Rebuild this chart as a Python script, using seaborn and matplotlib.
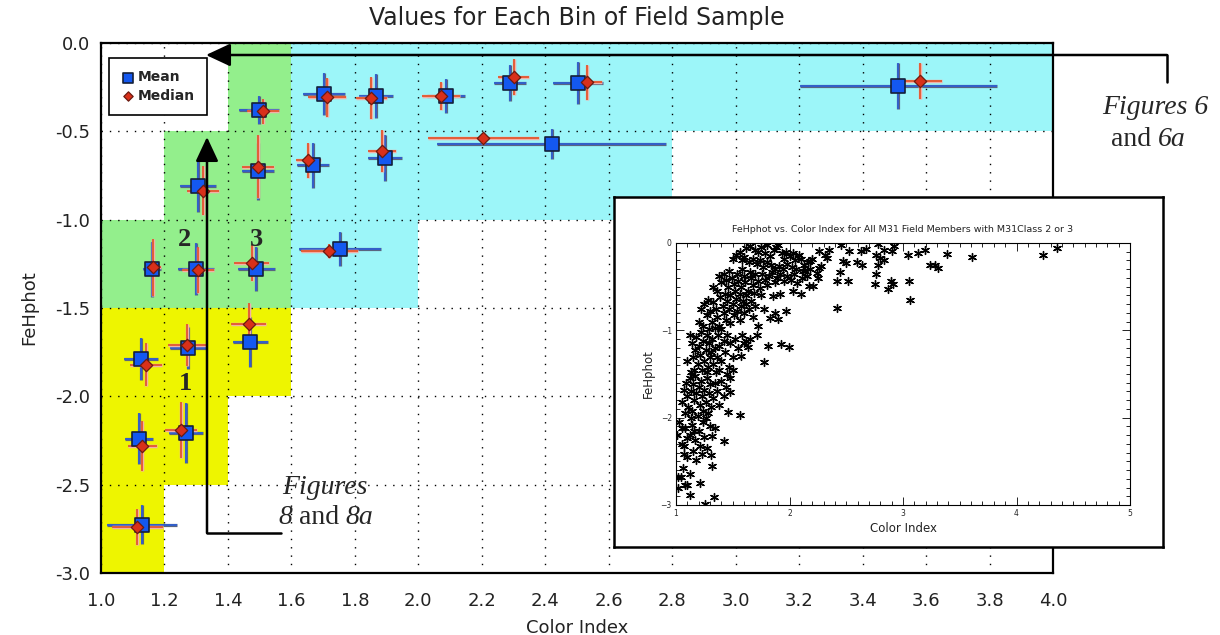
import matplotlib
matplotlib.use("Agg")
import matplotlib.pyplot as plt
import matplotlib.patheffects as pe
from matplotlib.patches import Rectangle
from matplotlib.ticker import MultipleLocator, FixedLocator, FixedFormatter
import seaborn as sns
import numpy as np

# ---------------- data ----------------
# bin cells (background)
bin_x0 = [1.0, 1.2, 1.4, 1.0, 1.2, 1.4, 1.6, 1.6, 1.6]
bin_x1 = [1.2, 1.4, 1.6, 1.6, 1.6, 1.6, 2.0, 2.8, 4.0]
bin_y0 = [-3.0, -2.5, -2.0, -1.5, -1.0, -0.5, -1.5, -1.0, -0.5]
bin_y1 = [-1.5, -1.5, -1.5, -1.0, -0.5, 0.0, -1.0, -0.5, 0.0]
bin_group = ["1", "1", "1", "2", "2", "2", "3", "3", "3"]

# mean values per bin
mean_x = [1.160, 1.300, 1.490, 1.753, 1.126, 1.274, 1.470, 1.120, 1.268, 1.130, 1.306,
          1.495, 1.498, 1.668, 1.895, 1.703, 1.867, 2.087, 2.289, 2.503, 2.420, 3.512]
mean_y = [-1.280, -1.278, -1.280, -1.165, -1.790, -1.727, -1.693, -2.240, -2.210, -2.727, -0.807,
          -0.727, -0.380, -0.693, -0.653, -0.290, -0.300, -0.300, -0.227, -0.227, -0.570, -0.244]
mean_xerr = [0.028, 0.057, 0.057, 0.130, 0.055, 0.057, 0.055, 0.045, 0.055, 0.110, 0.057,
             0.050, 0.063, 0.050, 0.055, 0.066, 0.054, 0.060, 0.050, 0.080, 0.360, 0.310]
mean_yerr = [0.155, 0.148, 0.125, 0.095, 0.120, 0.120, 0.140, 0.145, 0.170, 0.110, 0.150,
             0.160, 0.080, 0.125, 0.130, 0.120, 0.125, 0.095, 0.100, 0.120, 0.085, 0.130]

# median values per bin
med_x = [1.165, 1.305, 1.475, 1.720, 1.142, 1.270, 1.465, 1.130, 1.253, 1.115, 1.322,
         1.495, 1.510, 1.653, 1.885, 1.712, 1.852, 2.072, 2.300, 2.530, 2.204, 3.580]
med_y = [-1.270, -1.285, -1.245, -1.176, -1.820, -1.710, -1.590, -2.280, -2.190, -2.740, -0.835,
         -0.700, -0.386, -0.665, -0.613, -0.307, -0.313, -0.300, -0.193, -0.222, -0.540, -0.216]
med_xerr = [0.025, 0.050, 0.055, 0.090, 0.050, 0.060, 0.055, 0.045, 0.050, 0.080, 0.050,
            0.050, 0.050, 0.040, 0.045, 0.060, 0.050, 0.060, 0.050, 0.050, 0.175, 0.070]
med_yerr = [0.160, 0.130, 0.100, 0.040, 0.120, 0.120, 0.120, 0.140, 0.160, 0.100, 0.140,
            0.180, 0.070, 0.100, 0.120, 0.110, 0.120, 0.080, 0.100, 0.100, 0.030, 0.100]

x_ticks = [1.0, 1.2, 1.4, 1.6, 1.8, 2.0, 2.2, 2.4, 2.6, 2.8, 3.0, 3.2, 3.4, 3.6, 3.8, 4.0]
x_ticklabels = ["1.0", "1.2", "1.4", "1.6", "1.8", "2.0", "2.2", "2.4", "2.6", "2.8",
                "3.0", "3.2", "3.4", "3.6", "3.8", "4.0"]
y_ticks = [0.0, -0.5, -1.0, -1.5, -2.0, -2.5, -3.0]
y_ticklabels = ["0.0", "-0.5", "-1.0", "-1.5", "-2.0", "-2.5", "-3.0"]

# inset scatter (all M31 field members)
inset_band1 = [(1.62, -0.06), (1.65, -0.04), (1.70, -0.08), (1.72, -0.10), (1.75, -0.05), (1.78, -0.12),
               (1.80, -0.02), (1.83, -0.15), (1.86, -0.08), (1.88, -0.05), (1.90, -0.02), (1.93, -0.12),
               (1.95, -0.18), (1.97, -0.10), (2.00, -0.15), (2.03, -0.12), (2.05, -0.20), (2.08, -0.14),
               (2.10, -0.18), (2.13, -0.25), (2.16, -0.22), (2.20, -0.18), (1.50, -0.18), (1.53, -0.14),
               (1.56, -0.10), (1.58, -0.20), (1.60, -0.16), (1.64, -0.22), (1.68, -0.18), (1.71, -0.24),
               (1.74, -0.20), (1.77, -0.28), (1.80, -0.22), (1.84, -0.25), (1.87, -0.30), (1.91, -0.26),
               (1.94, -0.30), (1.98, -0.24), (2.02, -0.28), (2.06, -0.30), (2.12, -0.32), (2.18, -0.30),
               (2.24, -0.34), (2.28, -0.26)]
inset_band2 = [(1.38, -0.38), (1.40, -0.45), (1.42, -0.35), (1.44, -0.42), (1.46, -0.50), (1.47, -0.32),
               (1.49, -0.40), (1.51, -0.47), (1.52, -0.55), (1.54, -0.36), (1.55, -0.43), (1.57, -0.50),
               (1.58, -0.30), (1.60, -0.38), (1.61, -0.45), (1.63, -0.55), (1.65, -0.33), (1.66, -0.40),
               (1.68, -0.48), (1.70, -0.36), (1.72, -0.43), (1.74, -0.52), (1.76, -0.35), (1.78, -0.42),
               (1.80, -0.48), (1.82, -0.38), (1.85, -0.33), (1.87, -0.45), (1.89, -0.40), (1.92, -0.36),
               (1.95, -0.44), (1.98, -0.38), (2.01, -0.42), (2.04, -0.36), (2.07, -0.46), (2.11, -0.40),
               (2.15, -0.38), (1.43, -0.58), (1.48, -0.60), (1.56, -0.58), (1.62, -0.60), (1.69, -0.57),
               (1.75, -0.60), (1.33, -0.50), (1.36, -0.55)]
inset_band3 = [(1.22, -0.75), (1.25, -0.70), (1.27, -0.82), (1.28, -0.65), (1.30, -0.78), (1.32, -0.90),
               (1.33, -0.68), (1.35, -0.75), (1.36, -0.85), (1.38, -0.95), (1.39, -0.62), (1.41, -0.72),
               (1.42, -0.80), (1.44, -0.88), (1.45, -0.66), (1.47, -0.76), (1.48, -0.92), (1.50, -0.70),
               (1.51, -0.82), (1.53, -0.64), (1.54, -0.78), (1.56, -0.88), (1.57, -0.72), (1.59, -0.66),
               (1.60, -0.80), (1.62, -0.70), (1.64, -0.76), (1.66, -0.66), (1.68, -0.85), (1.70, -0.72),
               (1.72, -0.95), (1.20, -0.90), (1.24, -0.95), (1.29, -0.98), (1.34, -0.97), (1.40, -0.98)]
inset_band4 = [(1.12, -1.05), (1.14, -1.15), (1.15, -1.30), (1.16, -1.45), (1.17, -1.22), (1.18, -1.08),
               (1.19, -1.38), (1.20, -1.18), (1.21, -1.28), (1.22, -1.02), (1.23, -1.45), (1.24, -1.12),
               (1.25, -1.35), (1.26, -1.22), (1.27, -1.05), (1.28, -1.42), (1.29, -1.15), (1.30, -1.30),
               (1.31, -1.25), (1.32, -1.10), (1.33, -1.38), (1.34, -1.20), (1.35, -1.48), (1.36, -1.30),
               (1.37, -1.05), (1.38, -1.18), (1.40, -1.35), (1.42, -1.12), (1.43, -1.25), (1.45, -1.05),
               (1.47, -1.42), (1.48, -1.15), (1.50, -1.30), (1.52, -1.10), (1.55, -1.20), (1.58, -1.05),
               (1.60, -1.15), (1.65, -1.10), (1.10, -1.35), (1.13, -1.48), (1.27, -1.48), (1.38, -1.45),
               (1.45, -1.50), (1.50, -1.45)]
inset_band5 = [(1.05, -1.82), (1.07, -1.68), (1.08, -1.95), (1.09, -1.60), (1.10, -1.75), (1.11, -1.88),
               (1.12, -1.55), (1.13, -1.70), (1.14, -1.92), (1.15, -1.62), (1.16, -1.80), (1.17, -1.52),
               (1.18, -1.72), (1.19, -1.98), (1.20, -1.65), (1.21, -1.85), (1.22, -1.58), (1.23, -1.75),
               (1.24, -1.92), (1.25, -1.68), (1.26, -1.82), (1.27, -1.55), (1.28, -1.95), (1.29, -1.72),
               (1.30, -1.62), (1.31, -1.88), (1.33, -1.78), (1.34, -1.60), (1.36, -1.70), (1.38, -1.85),
               (1.40, -1.58), (1.42, -1.75), (1.44, -1.65), (1.48, -1.55), (1.13, -2.00), (1.26, -2.00)]
inset_band6 = [(1.03, -2.05), (1.05, -2.30), (1.08, -2.12), (1.10, -2.45), (1.12, -2.20), (1.14, -2.08),
               (1.15, -2.38), (1.17, -2.25), (1.18, -2.48), (1.20, -2.15), (1.21, -2.32), (1.23, -2.42),
               (1.25, -2.22), (1.27, -2.35), (1.30, -2.10), (1.24, -2.05), (1.16, -2.15)]
inset_sparse = [(4.355, -0.057), (4.236, -0.133), (3.607, -0.163), (3.387, -0.125), (3.198, -0.076),
                (3.129, -0.120), (3.040, -0.133), (3.239, -0.247), (3.286, -0.247), (3.311, -0.290),
                (3.050, -0.437), (3.066, -0.653), (2.909, -0.475), (2.893, -0.430), (2.871, -0.524),
                (2.750, -0.475), (2.758, -0.360), (2.780, -0.254), (2.764, -0.140), (2.796, -0.170),
                (2.836, -0.190), (2.836, -0.076), (2.905, -0.095), (2.925, -0.038), (2.780, -0.010),
                (2.670, -0.065), (2.626, -0.095), (2.640, -0.254), (2.594, -0.220), (2.525, -0.087),
                (2.516, -0.430), (2.500, -0.228), (2.470, -0.209), (2.456, -0.019), (2.418, -0.430),
                (2.443, -0.330), (2.420, -0.748), (2.330, -0.170), (2.350, -0.076), (2.310, -0.133),
                (2.258, -0.087), (2.264, -0.285), (2.248, -0.399), (2.211, -0.494), (2.170, -0.494),
                (2.185, -0.209), (2.140, -0.323), (2.100, -0.580), (2.035, -0.550), (1.997, -1.190),
                (1.965, -0.779), (1.928, -1.160), (1.918, -0.589), (1.896, -0.874), (1.870, -0.798),
                (1.830, -0.855), (1.855, -0.608), (1.808, -1.180), (1.777, -0.760), (1.777, -1.367),
                (1.714, -1.050), (1.635, -1.196), (1.613, -1.120), (1.572, -1.290), (1.563, -1.975),
                (1.462, -1.937), (1.478, -1.709), (1.425, -2.267), (1.346, -2.115), (1.321, -2.556),
                (1.336, -2.913), (1.305, -2.430), (1.314, -2.210), (1.210, -2.746), (1.126, -2.886),
                (1.100, -2.770), (1.079, -2.770), (1.123, -2.640), (1.022, -2.810), (1.044, -2.685),
                (1.022, -2.685), (1.060, -2.580), (1.005, -2.200), (1.094, -2.230), (1.069, -2.330),
                (1.069, -2.420), (1.053, -2.115), (1.258, -2.990)]

# ---------------- style ----------------
sns.set_style("white")
plt.rcParams["font.family"] = ["DejaVu Sans"]

W, H = 1220, 635
fig = plt.figure(figsize=(W / 100, H / 100), dpi=100)
ax = fig.add_axes([101 / W, 1 - 573 / H, (1053 - 101) / W, (573 - 43) / H])

group_colors = {"1": "#eef500", "2": "#93ef8c", "3": "#9cf6f9"}
for x0, x1, y0, y1, g in zip(bin_x0, bin_x1, bin_y0, bin_y1, bin_group):
    ax.add_patch(Rectangle((x0, y0), x1 - x0, y1 - y0, facecolor=group_colors[g],
                           edgecolor="none", zorder=0.5))

ax.set_xlim(1.0, 4.0)
ax.set_ylim(-3.0, 0.0)
ax.xaxis.set_major_locator(FixedLocator(x_ticks))
ax.xaxis.set_major_formatter(FixedFormatter(x_ticklabels))
ax.yaxis.set_major_locator(FixedLocator(y_ticks))
ax.yaxis.set_major_formatter(FixedFormatter(y_ticklabels))
ax.grid(True, color="black", linestyle=(0, (1, 5)), linewidth=1.0, zorder=1)
ax.tick_params(length=0, labelsize=13, labelcolor="#222222")
ax.tick_params(axis="x", pad=14)
ax.tick_params(axis="y", pad=8)
for s in ax.spines.values():
    s.set_color("black")
    s.set_linewidth(1.6)

# error bars
blue_bar = "#2f5fd0"
red_bar = "#e2572f"
eb1 = ax.errorbar(mean_x, mean_y, xerr=mean_xerr, yerr=mean_yerr, fmt="none",
                  ecolor=blue_bar, elinewidth=1.3, capsize=0, zorder=3)
for lc in eb1.lines[2]:
    lc.set_path_effects([pe.withStroke(linewidth=2.3, foreground="#5a6580")])
eb2 = ax.errorbar(med_x, med_y, xerr=med_xerr, yerr=med_yerr, fmt="none",
                  ecolor=red_bar, elinewidth=1.3, capsize=0, zorder=4)
for lc in eb2.lines[2]:
    lc.set_path_effects([pe.withStroke(linewidth=2.5, foreground="#f2b0a8")])

sns.scatterplot(x=mean_x, y=mean_y, marker="s", s=88, color="#1458f0",
                edgecolor="#15203a", linewidth=1.2, label="Mean", zorder=6, ax=ax)
sns.scatterplot(x=med_x, y=med_y, marker="D", s=40, color="#d8301a",
                edgecolor="#6a1a10", linewidth=0.9, label="Median", zorder=7, ax=ax)

leg = ax.legend(loc="upper left", bbox_to_anchor=(0.008, 0.972), borderaxespad=0,
                fancybox=False, edgecolor="black", framealpha=1, fontsize=10,
                handletextpad=0.2, borderpad=0.9, labelspacing=0.3, handlelength=1.0,
                markerscale=0.75)
leg.get_frame().set_linewidth(1.2)
for t in leg.get_texts():
    t.set_fontweight("bold")

ax.set_title("Values for Each Bin of Field Sample", fontsize=17, color="#222222", pad=13)
ax.set_xlabel("Color Index", fontsize=13, color="#222222", labelpad=6)
ax.set_ylabel("FeHphot", fontsize=13, color="#222222", labelpad=12)

# bin numbers
serif = ["Liberation Serif", "DejaVu Serif"]
for lab, xx, yy in [("2", 1.262, -1.114), ("3", 1.490, -1.114), ("1", 1.265, -1.926)]:
    ax.text(xx, yy, lab, fontsize=19, fontweight="bold", family=serif,
            ha="center", va="center", zorder=8)

# arrows (figure pixel coordinates)
arrow_kw = dict(arrowstyle="-|>,head_length=0.75,head_width=0.35", color="black",
                lw=1.8, shrinkA=0, shrinkB=0, mutation_scale=20)
fig.add_artist(plt.Line2D([1167 / W, 1167 / W], [1 - 82 / H, 1 - 55 / H], color="black", lw=1.8))
ax.annotate("", xy=(206, H - 55), xycoords="figure pixels", xytext=(1167, H - 55),
            textcoords="figure pixels", arrowprops=arrow_kw, zorder=10, annotation_clip=False)
fig.add_artist(plt.Line2D([207 / W, 281 / W], [1 - 533 / H, 1 - 533 / H], color="black", lw=1.8))
ax.annotate("", xy=(207, H - 137), xycoords="figure pixels", xytext=(207, H - 533),
            textcoords="figure pixels", arrowprops=arrow_kw, zorder=10, annotation_clip=False)

tkw = dict(fontsize=20, family=serif, va="center")
fig.text(1155 / W, 1 - 107 / H, "Figures 6", style="italic", ha="center", **tkw)
fig.text(1151 / W, 1 - 139 / H, "and", ha="right", **tkw)
fig.text(1158 / W, 1 - 139 / H, "6a", style="italic", ha="left", **tkw)
fig.text(325 / W, 1 - 487 / H, "Figures", style="italic", ha="center", **tkw)
fig.text(292 / W, 1 - 517 / H, "8", style="italic", ha="right", **tkw)
fig.text(319 / W, 1 - 517 / H, "and", ha="center", **tkw)
fig.text(345 / W, 1 - 517 / H, "8a", style="italic", ha="left", **tkw)

# inset box
box = fig.add_axes([614 / W, 1 - 547 / H, (1163 - 614) / W, (547 - 197) / H], zorder=5)
box.set_xticks([])
box.set_yticks([])
box.set_facecolor("white")
for s in box.spines.values():
    s.set_color("black")
    s.set_linewidth(1.8)

ins = fig.add_axes([676 / W, 1 - 505 / H, (1130 - 676) / W, (505 - 243) / H], zorder=6)
ins.set_facecolor("white")
inset_all = inset_band1 + inset_band2 + inset_band3 + inset_band4 + inset_band5 + inset_band6 + inset_sparse
ins_x = [p[0] for p in inset_all]
ins_y = [p[1] for p in inset_all]
sns.scatterplot(x=ins_x, y=ins_y, marker=(6, 2, 0), s=32, color="black",
                linewidth=1.0, ax=ins, zorder=3)
ins.set_xlim(1, 5)
ins.set_ylim(-3, 0)
ins.xaxis.set_major_locator(MultipleLocator(1))
ins.xaxis.set_minor_locator(MultipleLocator(0.1))
ins.yaxis.set_major_locator(MultipleLocator(1))
ins.yaxis.set_minor_locator(MultipleLocator(0.1))
ins.tick_params(which="both", direction="in", top=True, right=True, bottom=True, left=True,
                labelsize=5.5, pad=3, width=0.6, color="black")
ins.tick_params(which="major", length=6)
ins.tick_params(which="minor", length=3)
for s in ins.spines.values():
    s.set_color("black")
    s.set_linewidth(0.8)
ins.set_title("FeHphot vs. Color Index for All M31 Field Members with M31Class 2 or 3",
              fontsize=6.8, color="#222222", pad=8)
ins.set_xlabel("Color Index", fontsize=8.5, color="#222222", labelpad=3)
ins.set_ylabel("FeHphot", fontsize=8.5, color="#222222", labelpad=4)

fig.savefig("out.png", dpi=100)
